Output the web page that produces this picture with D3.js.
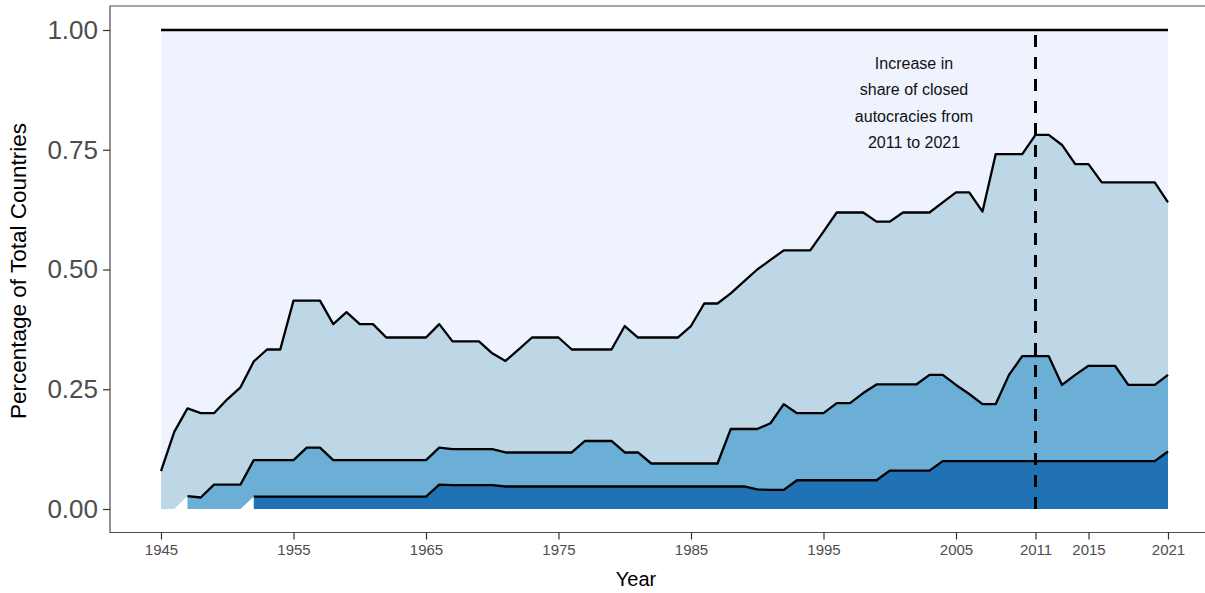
<!DOCTYPE html>
<html>
<head>
<meta charset="utf-8">
<script src="https://cdn.jsdelivr.net/npm/d3@7"></script>
<style>
  html, body { margin: 0; padding: 0; background: #ffffff; }
  svg { display: block; font-family: "Liberation Sans", Arial, Helvetica, sans-serif; }
</style>
</head>
<body>
<svg id="chart" width="1205" height="593"></svg>
<script>
// ---------------- DATA ----------------
const years = d3.range(1945, 2022);

// share of countries per regime group, bottom -> top of the stack (null = no data)
const groupDark = [
  null, null, null, null, null, null, null,                       // 1945-1951
  0.026, 0.026, 0.026, 0.026, 0.026, 0.026, 0.026, 0.026,         // 1952-1959
  0.026, 0.026, 0.026, 0.026, 0.026, 0.026, 0.051, 0.050,         // 1960-1967
  0.050, 0.050, 0.050, 0.047, 0.047, 0.047, 0.047, 0.047,         // 1968-1975
  0.047, 0.047, 0.047, 0.047, 0.047, 0.047, 0.047, 0.047,         // 1976-1983
  0.047, 0.047, 0.047, 0.047, 0.047, 0.047, 0.041, 0.040,         // 1984-1991
  0.040, 0.060, 0.060, 0.060, 0.060, 0.060, 0.060, 0.060,         // 1992-1999
  0.080, 0.080, 0.080, 0.080, 0.100, 0.100, 0.100, 0.100,         // 2000-2007
  0.100, 0.100, 0.100, 0.100, 0.100, 0.100, 0.100, 0.100,         // 2008-2015
  0.100, 0.100, 0.100, 0.100, 0.100, 0.120                        // 2016-2021
];
const groupMedium = [
  null, null, 0.027, 0.024, 0.051, 0.051, 0.051,                  // 1945-1951
  0.076, 0.076, 0.076, 0.076, 0.102, 0.102, 0.076, 0.076,         // 1952-1959
  0.076, 0.076, 0.076, 0.076, 0.076, 0.076, 0.077, 0.075,         // 1960-1967
  0.075, 0.075, 0.075, 0.071, 0.071, 0.071, 0.071, 0.071,         // 1968-1975
  0.071, 0.095, 0.095, 0.095, 0.071, 0.071, 0.048, 0.048,         // 1976-1983
  0.048, 0.048, 0.048, 0.048, 0.120, 0.120, 0.126, 0.139,         // 1984-1991
  0.179, 0.140, 0.140, 0.140, 0.161, 0.161, 0.182, 0.200,         // 1992-1999
  0.180, 0.180, 0.180, 0.200, 0.180, 0.159, 0.140, 0.119,         // 2000-2007
  0.119, 0.180, 0.219, 0.219, 0.219, 0.159, 0.180, 0.199,         // 2008-2015
  0.199, 0.199, 0.159, 0.159, 0.159, 0.160                        // 2016-2021
];
const groupLight = [
  0.079, 0.161, 0.183, 0.176, 0.149, 0.178, 0.203,                // 1945-1951
  0.206, 0.231, 0.231, 0.333, 0.307, 0.307, 0.284, 0.309,         // 1952-1959
  0.284, 0.284, 0.256, 0.256, 0.256, 0.256, 0.258, 0.225,         // 1960-1967
  0.225, 0.225, 0.200, 0.191, 0.215, 0.240, 0.240, 0.240,         // 1968-1975
  0.215, 0.191, 0.191, 0.191, 0.264, 0.240, 0.263, 0.263,         // 1976-1983
  0.263, 0.287, 0.334, 0.334, 0.283, 0.308, 0.333, 0.341,         // 1984-1991
  0.321, 0.340, 0.340, 0.379, 0.398, 0.398, 0.377, 0.340,         // 1992-1999
  0.340, 0.359, 0.359, 0.339, 0.360, 0.402, 0.421, 0.402,         // 2000-2007
  0.522, 0.461, 0.422, 0.462, 0.462, 0.501, 0.440, 0.421,         // 2008-2015
  0.383, 0.383, 0.423, 0.423, 0.423, 0.360                        // 2016-2021
];
const groupTop = [
  0.921, 0.839, 0.790, 0.800, 0.800, 0.771, 0.746,                // 1945-1951
  0.692, 0.667, 0.667, 0.565, 0.565, 0.565, 0.614, 0.589,         // 1952-1959
  0.614, 0.614, 0.642, 0.642, 0.642, 0.642, 0.614, 0.650,         // 1960-1967
  0.650, 0.650, 0.675, 0.691, 0.667, 0.642, 0.642, 0.642,         // 1968-1975
  0.667, 0.667, 0.667, 0.667, 0.618, 0.642, 0.642, 0.642,         // 1976-1983
  0.642, 0.618, 0.571, 0.571, 0.550, 0.525, 0.500, 0.480,         // 1984-1991
  0.460, 0.460, 0.460, 0.421, 0.381, 0.381, 0.381, 0.400,         // 1992-1999
  0.400, 0.381, 0.381, 0.381, 0.360, 0.339, 0.339, 0.379,         // 2000-2007
  0.259, 0.259, 0.259, 0.219, 0.219, 0.240, 0.280, 0.280,         // 2008-2015
  0.318, 0.318, 0.318, 0.318, 0.318, 0.360                        // 2016-2021
];

const seriesList = [groupDark, groupMedium, groupLight, groupTop];
const fillColors = ["#2171B5", "#6BAED6", "#BDD7E7", "#EEF3FE"];

const xTickValues = [1945, 1955, 1965, 1975, 1985, 1995, 2005, 2011, 2015, 2021];
const yTickValues = [0, 0.25, 0.5, 0.75, 1];
const markYear = 2011;
const noteLines = ["Increase in", "share of closed", "autocracies from", "2011 to 2021"];

// ---------------- LAYOUT ----------------
const svg = d3.select("#chart");
const panel = { left: 110, right: 1225, top: 6, bottom: 532.5 };

const x = d3.scaleLinear().domain([1945, 2021]).range([161, 1168]);
const y = d3.scaleLinear().domain([0, 1]).range([509, 30]);

// stack (missing values leave the layer undefined, base carries the running sum)
const layers = seriesList.map(() => []);
years.forEach((yr, i) => {
  let cum = 0;
  seriesList.forEach((s, k) => {
    const v = s[i];
    const lo = cum;
    if (v != null) cum = cum + v;
    layers[k].push({ year: yr, def: v != null, y0: lo, y1: cum });
  });
});

const area = d3.area()
  .defined(d => d.def)
  .x(d => x(d.year))
  .y0(d => y(d.y0))
  .y1(d => y(d.y1));

const line = d3.line()
  .defined(d => d.def)
  .x(d => x(d.year))
  .y(d => y(d.y1));

const g = svg.append("g");

// areas (top layer first so lower layers sit over it)
layers.slice().reverse().forEach((layer, idx) => {
  const k = layers.length - 1 - idx;
  g.append("path")
    .attr("d", area(layer))
    .attr("fill", fillColors[k]);
});

// boundary lines
layers.forEach(layer => {
  g.append("path")
    .attr("d", line(layer))
    .attr("fill", "none")
    .attr("stroke", "#000")
    .attr("stroke-width", 2.3)
    .attr("stroke-linejoin", "round")
    .attr("stroke-linecap", "butt");
});

// dashed reference line
g.append("line")
  .attr("x1", x(markYear)).attr("x2", x(markYear))
  .attr("y1", y(0)).attr("y2", y(1))
  .attr("stroke", "#000")
  .attr("stroke-width", 3)
  .attr("stroke-dasharray", "12,10");

// annotation
const note = g.append("text")
  .attr("text-anchor", "middle")
  .attr("font-size", 16)
  .attr("fill", "#111");
noteLines.forEach((t, i) => {
  note.append("tspan")
    .attr("x", 914)
    .attr("y", 69 + i * 26.3)
    .text(t);
});

// panel frame (left, top, bottom)
svg.append("path")
  .attr("d", `M${panel.right},${panel.top}H${panel.left}V${panel.bottom}H${panel.right}`)
  .attr("fill", "none")
  .attr("stroke", "#4d4d4d")
  .attr("stroke-width", 1.2);

// y axis
const yAxis = d3.axisLeft(y)
  .tickValues(yTickValues)
  .tickFormat(d3.format(".2f"))
  .tickSize(7)
  .tickPadding(5);
const ya = svg.append("g").attr("transform", `translate(${panel.left},0)`).call(yAxis);
ya.select(".domain").remove();
ya.selectAll(".tick line").attr("stroke", "#333").attr("stroke-width", 1.2);
ya.selectAll(".tick text")
  .attr("fill", "#4d4d4d")
  .attr("font-size", 26)
  .attr("font-family", "Liberation Sans, Arial, sans-serif");

// x axis
const xAxis = d3.axisBottom(x)
  .tickValues(xTickValues)
  .tickFormat(d3.format("d"))
  .tickSize(7)
  .tickPadding(5);
const xa = svg.append("g").attr("transform", `translate(0,${panel.bottom})`).call(xAxis);
xa.select(".domain").remove();
xa.selectAll(".tick line").attr("stroke", "#333").attr("stroke-width", 1.2);
xa.selectAll(".tick text")
  .attr("fill", "#4d4d4d")
  .attr("font-size", 15)
  .attr("font-family", "Liberation Sans, Arial, sans-serif");

// axis titles
svg.append("text")
  .attr("x", 636).attr("y", 586)
  .attr("text-anchor", "middle")
  .attr("font-size", 20)
  .attr("fill", "#000")
  .text("Year");

svg.append("text")
  .attr("transform", "translate(26,271) rotate(-90)")
  .attr("text-anchor", "middle")
  .attr("font-size", 22.5)
  .attr("fill", "#000")
  .text("Percentage of Total Countries");
</script>
</body>
</html>
